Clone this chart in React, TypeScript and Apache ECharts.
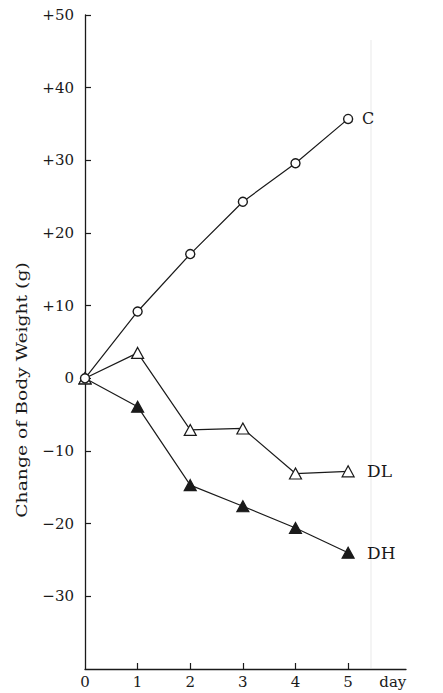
import React, { useEffect, useRef } from "react";
import * as echarts from "echarts";

const days = [0, 1, 2, 3, 4, 5];
const controlC = [0, 9.2, 17.1, 24.3, 29.6, 35.7];
const lowDoseDL = [0, 3.5, -7.1, -6.9, -13.1, -12.8];
const highDoseDH = [0, -3.9, -14.7, -17.6, -20.6, -24.0];
const seriesNames = ["C", "DL", "DH"];
const xLabelValues = [0, 1, 2, 3, 4, 5, 5.85];
const xTickValues = [1, 2, 3, 4, 5];
const yTickValues = [-30, -20, -10, 0, 10, 20, 30, 40, 50];
const yAxisTitle = "Change of Body Weight (g)";

const FONT = "'DejaVu Serif', 'Liberation Serif', serif";
const INK = "#1a1a1a";

export default function App() {
  const ref = useRef<HTMLDivElement>(null);
  useEffect(() => {
    if (!ref.current) return;
    const chart = echarts.init(ref.current, null, { renderer: "svg" });
    const toData = (vals: number[], openFirst: boolean) =>
      days.map((d, i) =>
        i === 0 && openFirst
          ? { value: [d, vals[i]], itemStyle: { color: "#fff" } }
          : [d, vals[i]]
      );
    const endLabel = (txt: string, dist: number, size: number) => ({
      show: true,
      formatter: txt,
      distance: dist,
      color: INK,
      fontFamily: FONT,
      fontSize: size,
    });

    chart.setOption({
      animation: false,
      backgroundColor: "#fff",
      grid: { left: 85, right: 37, top: 15, bottom: 24, containLabel: false },
      xAxis: {
        type: "value",
        min: 0,
        max: 6.1,
        splitLine: { show: false },
        axisLine: { show: true, onZero: false, lineStyle: { color: INK, width: 1.3 } },
        axisTick: { show: true, inside: true, length: 6, customValues: xTickValues, lineStyle: { color: INK, width: 1.2 } },
        axisLabel: {
          customValues: xLabelValues,
          formatter: (v: number) => (v > 5.5 ? "day" : String(v)),
          color: INK,
          fontFamily: FONT,
          fontSize: 15,
          margin: 5,
        },
      },
      yAxis: {
        type: "value",
        min: -40,
        max: 50,
        interval: 10,
        splitLine: { show: false },
        axisLine: { show: true, onZero: false, lineStyle: { color: INK, width: 1.3 } },
        axisTick: { show: true, inside: true, length: 6, customValues: yTickValues, lineStyle: { color: INK, width: 1.2 } },
        axisLabel: {
          customValues: yTickValues,
          formatter: (v: number) => (v > 0 ? "+" + v : v < 0 ? "\u2212" + Math.abs(v) : "0"),
          color: INK,
          fontFamily: FONT,
          fontSize: 15,
          margin: 11,
        },
      },
      graphic: [
        {
          type: "line",
          silent: true,
          shape: { x1: 371, y1: 40, x2: 371, y2: 668 },
          style: { stroke: "#ededed", lineWidth: 1.2 },
        },
        {
          type: "text",
          x: 22,
          y: 390,
          rotation: Math.PI / 2,
          scaleX: 1.25,
          style: {
            text: yAxisTitle,
            fill: INK,
            font: `15px ${FONT}`,
            textAlign: "center",
            textVerticalAlign: "middle",
          },
        },
      ],
      series: [
        {
          name: seriesNames[2],
          type: "line",
          data: toData(highDoseDH, true),
          symbol: "triangle",
          symbolSize: [12, 11],
          lineStyle: { color: INK, width: 1.2 },
          itemStyle: { color: INK, borderColor: INK, borderWidth: 1.2 },
          endLabel: endLabel(seriesNames[2], 19, 17),
          z: 2,
        },
        {
          name: seriesNames[1],
          type: "line",
          data: toData(lowDoseDL, false),
          symbol: "triangle",
          symbolSize: [12, 11],
          lineStyle: { color: INK, width: 1.2 },
          itemStyle: { color: "#fff", borderColor: INK, borderWidth: 1.2 },
          endLabel: endLabel(seriesNames[1], 19, 17),
          z: 3,
        },
        {
          name: seriesNames[0],
          type: "line",
          data: toData(controlC, false),
          symbol: "circle",
          symbolSize: 9,
          lineStyle: { color: INK, width: 1.2 },
          itemStyle: { color: "#fff", borderColor: INK, borderWidth: 1.4 },
          endLabel: endLabel(seriesNames[0], 14, 16),
          z: 4,
        },
      ],
    });
    return () => chart.dispose();
  }, []);
  return (
    <div
      ref={ref}
      style={{ position: "fixed", left: 0, top: 0, width: 443, height: 693 }}
    />
  );
}
